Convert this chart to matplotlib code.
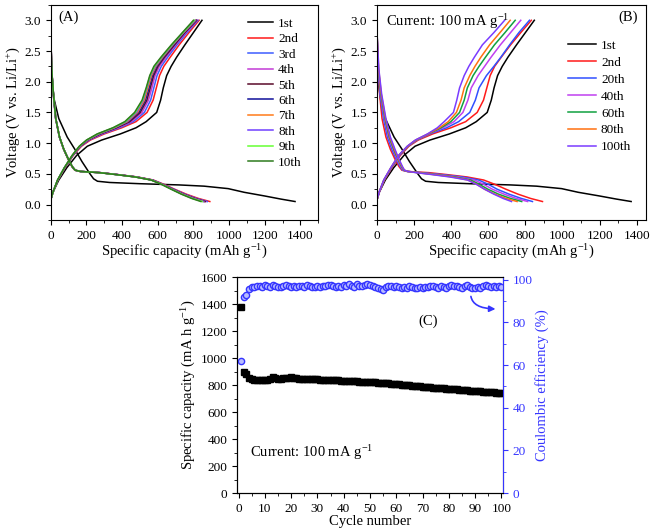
import matplotlib
matplotlib.use("Agg")
import matplotlib.pyplot as plt
from matplotlib.ticker import MultipleLocator

plt.rcParams['font.family'] = ['Liberation Serif', 'DejaVu Serif']
plt.rcParams['mathtext.default'] = 'regular'
plt.rcParams['font.size'] = 9.5

# ---- galvanostatic profiles: capacity (mAh/g) read at fixed voltages ----
v_chg = [0.08, 0.2, 0.4, 0.6, 0.8, 0.95, 1.05, 1.15, 1.25, 1.35, 1.5, 1.7, 1.9, 2.1, 2.25, 2.4, 2.6, 2.8, 3.0]
v_dis = [2.8, 2.2, 1.8, 1.4, 1.1, 0.9, 0.75, 0.62, 0.56, 0.54, 0.52, 0.49, 0.45, 0.40, 0.33, 0.25, 0.17, 0.10, 0.05]
v_dis_first = [2.6, 2.0, 1.7, 1.4, 1.1, 0.9, 0.7, 0.5, 0.42, 0.38, 0.36, 0.34, 0.32, 0.30, 0.26, 0.20, 0.14, 0.09, 0.05]

dis_1st = [0, 6, 20, 45, 92, 135, 175, 220, 240, 262, 330, 500, 720, 860, 995, 1085, 1200, 1290, 1370]
chg_1st = [0, 12, 45, 90, 145, 205, 285, 390, 478, 535, 594, 616, 631, 650, 675, 706, 752, 800, 848]

# panel A, cycles 2..10
a_labels = ['2nd', '3rd', '4th', '5th', '6th', '7th', '8th', '9th', '10th']
a_colors = ['#ff1a1a', '#3d5cff', '#c23ad6', '#5a0a2a', '#10109a', '#ff7a1a', '#7040ff', '#66ff33', '#2e7a1e']
a_chg = [
    [0, 12, 40, 80, 126, 172, 222, 300, 398, 478, 540, 574, 592, 610, 634, 670, 720, 775, 832],
    [0, 12, 40, 79, 124, 168, 215, 290, 385, 463, 525, 560, 578, 596, 620, 656, 708, 764, 826],
    [0, 12, 39, 78, 123, 166, 211, 283, 375, 452, 512, 548, 567, 585, 609, 646, 700, 757, 822],
    [0, 12, 39, 78, 122, 165, 208, 278, 368, 443, 502, 539, 558, 577, 601, 638, 694, 752, 818],
    [0, 12, 39, 77, 122, 164, 206, 274, 362, 436, 494, 531, 551, 570, 595, 632, 689, 748, 815],
    [0, 12, 39, 77, 121, 163, 204, 270, 358, 430, 487, 525, 545, 565, 590, 628, 685, 745, 812],
    [0, 12, 38, 76, 121, 162, 203, 266, 354, 424, 481, 519, 540, 560, 586, 624, 682, 743, 809],
    [0, 12, 38, 76, 120, 161, 201, 263, 351, 419, 475, 515, 537, 557, 582, 621, 679, 741, 805],
    [0, 12, 38, 76, 120, 160, 200, 260, 348, 415, 470, 512, 535, 555, 578, 618, 676, 738, 800],
]
a_dis = [
    [0, 5, 14, 27, 48, 72, 95, 118, 134, 162, 280, 372, 485, 575, 635, 695, 760, 828, 892],
    [0, 5, 14, 27, 48, 72, 96, 119, 136, 164, 278, 370, 482, 572, 630, 690, 752, 818, 878],
    [0, 5, 15, 28, 49, 73, 97, 120, 137, 165, 276, 368, 480, 570, 628, 686, 748, 812, 870],
    [0, 5, 15, 28, 49, 73, 97, 120, 137, 165, 275, 367, 478, 568, 626, 684, 745, 808, 866],
    [0, 5, 15, 28, 49, 73, 97, 120, 137, 165, 274, 366, 477, 567, 625, 682, 742, 804, 862],
    [0, 5, 15, 28, 49, 73, 97, 120, 137, 165, 273, 365, 476, 566, 624, 680, 740, 801, 858],
    [0, 5, 15, 28, 49, 73, 97, 120, 137, 165, 272, 364, 475, 565, 623, 679, 738, 798, 855],
    [0, 5, 15, 28, 49, 73, 97, 120, 137, 165, 271, 363, 474, 564, 622, 677, 735, 794, 850],
    [0, 5, 15, 28, 49, 73, 97, 120, 137, 165, 270, 362, 472, 562, 620, 675, 732, 790, 842],
]

# panel B, cycles 20..100
b_labels = ['20th', '40th', '60th', '80th', '100th']
b_colors = ['#3050ff', '#c040f0', '#10a040', '#ff7010', '#7a3cff']
b_chg = [
    [0, 12, 39, 78, 122, 168, 215, 285, 375, 440, 500, 530, 550, 590, 630, 668, 715, 765, 822],
    [0, 12, 38, 77, 120, 166, 212, 280, 355, 415, 463, 490, 508, 545, 580, 615, 665, 720, 775],
    [0, 11, 37, 76, 118, 165, 210, 277, 345, 398, 445, 470, 487, 518, 550, 585, 633, 690, 745],
    [0, 11, 37, 75, 117, 164, 208, 275, 336, 384, 428, 453, 470, 500, 528, 560, 607, 663, 718],
    [0, 11, 36, 74, 116, 163, 206, 272, 325, 362, 412, 430, 445, 470, 495, 525, 568, 630, 688],
]
b_dis = [
    [0, 6, 16, 35, 56, 80, 102, 124, 138, 162, 240, 345, 460, 548, 600, 648, 712, 778, 838],
    [0, 7, 19, 40, 62, 86, 107, 128, 142, 164, 228, 325, 438, 525, 575, 622, 685, 750, 812],
    [0, 8, 21, 43, 66, 90, 111, 132, 145, 165, 222, 312, 420, 505, 552, 598, 655, 720, 780],
    [0, 9, 23, 46, 69, 94, 114, 135, 147, 166, 216, 302, 405, 490, 538, 580, 635, 695, 755],
    [0, 10, 25, 48, 72, 97, 117, 137, 148, 167, 210, 292, 392, 488, 535, 580, 630, 680, 725],
]

# ---- cycling performance ----
cycles = list(range(1, 101))
capacity = [1375, 900, 880, 855, 845, 838, 835, 835, 836, 838,
            840, 845, 862, 852, 848, 848, 850, 852, 855, 856,
            852, 850, 848, 846, 845, 845, 844, 843, 842, 841,
            840, 839, 838, 837, 836, 835, 835, 834, 833, 832,
            831, 830, 829, 828, 827, 826, 825, 824, 823, 822,
            821, 819, 818, 817, 815, 814, 812, 810, 809, 807,
            805, 803, 801, 799, 797, 795, 794, 792, 790, 788,
            787, 785, 783, 781, 780, 778, 776, 775, 773, 772,
            770, 768, 767, 765, 763, 762, 760, 758, 757, 755,
            754, 752, 751, 749, 748, 746, 745, 743, 741, 739]
efficiency = [62, 92, 93, 95.5, 96.5, 96.5, 97, 97, 96.5, 97.5,
              97, 96.5, 97.5, 97, 96.5, 96.5, 97, 97.5, 97, 96.5,
              97, 96.5, 97, 97, 96.5, 97.5, 97, 96.5, 96.5, 97,
              96.5, 97, 97, 97.5, 97.5, 97, 96.5, 97, 96.5, 97.5,
              97, 98, 97, 96.5, 98, 97, 97, 97.5, 98, 97.5,
              97, 96.5, 96, 95.5, 95, 96.5, 97, 97, 96.5, 97,
              96.5, 96, 96.5, 96, 97, 96.5, 96, 96, 96.5, 96,
              96.5, 96.5, 97, 97, 96.5, 96, 97, 96.5, 96, 97,
              97.5, 97, 97, 96.5, 96, 97, 97.5, 96.5, 96, 96,
              96.5, 96, 97, 97.5, 97, 96.5, 97, 96.5, 97, 96.5]

blue = '#3535ff'

fig = plt.figure(figsize=(6.62, 5.30), dpi=100)
ax_a = fig.add_axes([0.0767, 0.585, 0.404, 0.4057])
ax_b = fig.add_axes([0.5695, 0.585, 0.4063, 0.4057])
ax_c = fig.add_axes([0.358, 0.0698, 0.4018, 0.4075])


def style_profile(ax, xmax):
    ax.set_xlim(0, xmax)
    ax.set_ylim(-0.25, 3.25)
    ax.xaxis.set_major_locator(MultipleLocator(200))
    ax.xaxis.set_minor_locator(MultipleLocator(100))
    ax.yaxis.set_major_locator(MultipleLocator(0.5))
    ax.yaxis.set_minor_locator(MultipleLocator(0.25))
    ax.yaxis.set_major_formatter(plt.FormatStrFormatter('%.1f'))
    ax.tick_params(which='both', direction='out', top=False, right=False)
    ax.tick_params(which='major', length=3.5)
    ax.tick_params(which='minor', length=2)
    ax.set_xlabel('Specific capacity (mAh g$^{-1}$)', fontsize=10.5, labelpad=1)
    ax.set_ylabel('Voltage (V vs. Li/Li$^{+}$)', fontsize=10.5, labelpad=2)


lw = 1.1

# (A)
ax_a.plot(dis_1st, v_dis_first, color='black', lw=lw)
ax_a.plot(chg_1st, v_chg, color='black', lw=lw, label='1st')
for lab, col, c, d in zip(a_labels, a_colors, a_chg, a_dis):
    ax_a.plot(d, v_dis, color=col, lw=lw)
    ax_a.plot(c, v_chg, color=col, lw=lw, label=lab)
style_profile(ax_a, 1500)
ax_a.text(0.03, 0.975, '(A)', transform=ax_a.transAxes, ha='left', va='top', fontsize=10.5)
ax_a.legend(loc='upper left', bbox_to_anchor=(0.737, 0.94), frameon=False, fontsize=9.5,
            handlelength=1.9, handletextpad=0.4, labelspacing=0.24, borderpad=0, borderaxespad=0)

# (B)
ax_b.plot(dis_1st, v_dis_first, color='black', lw=lw)
ax_b.plot(chg_1st, v_chg, color='black', lw=lw, label='1st')
ax_b.plot(a_dis[0], v_dis, color=a_colors[0], lw=lw)
ax_b.plot(a_chg[0], v_chg, color=a_colors[0], lw=lw, label='2nd')
for lab, col, c, d in zip(b_labels, b_colors, b_chg, b_dis):
    ax_b.plot(d, v_dis, color=col, lw=lw)
    ax_b.plot(c, v_chg, color=col, lw=lw, label=lab)
style_profile(ax_b, 1450)
ax_b.text(0.97, 0.975, '(B)', transform=ax_b.transAxes, ha='right', va='top', fontsize=10.5)
ax_b.text(0.035, 0.965, 'Current: 100 mA g$^{-1}$', transform=ax_b.transAxes,
          ha='left', va='top', fontsize=10.5)
ax_b.legend(loc='upper left', bbox_to_anchor=(0.71, 0.84), frameon=False, fontsize=9.5,
            handlelength=2.1, handletextpad=0.4, labelspacing=0.36, borderpad=0, borderaxespad=0)

# (C)
ax_c.plot(cycles, capacity, ls='none', marker='s', ms=4.3, color='black')
ax_c.set_xlim(-0.6, 100.6)
ax_c.set_ylim(0, 1600)
ax_c.xaxis.set_major_locator(MultipleLocator(10))
ax_c.xaxis.set_minor_locator(MultipleLocator(5))
ax_c.yaxis.set_major_locator(MultipleLocator(200))
ax_c.yaxis.set_minor_locator(MultipleLocator(100))
ax_c.tick_params(which='both', direction='out', top=False, right=False)
ax_c.tick_params(which='major', length=3.5)
ax_c.tick_params(which='minor', length=2)
ax_c.set_xlabel('Cycle number', fontsize=10.5, labelpad=0)
ax_c.set_ylabel('Specific capacity (mA h g$^{-1}$)', fontsize=10.5, labelpad=2)
ax_c.text(4.2, 297, 'Current: 100 mA g$^{-1}$', ha='left', va='center', fontsize=10.5)
ax_c.text(72.3, 1270, '(C)', ha='center', va='center', fontsize=10.5)

ax_r = ax_c.twinx()
ax_r.plot(cycles, efficiency, ls='none', marker='o', ms=4.5, mfc='#b8bcff', mec=blue, mew=1.0)
ax_r.set_ylim(0, 101.3)
ax_r.yaxis.set_major_locator(MultipleLocator(20))
ax_r.yaxis.set_minor_locator(MultipleLocator(10))
ax_r.tick_params(axis='y', which='both', direction='out', colors=blue)
ax_r.tick_params(axis='y', which='major', length=3.5)
ax_r.tick_params(axis='y', which='minor', length=2)
ax_r.spines['right'].set_color(blue)
ax_r.set_ylabel('Coulombic efficiency (%)', color=blue, fontsize=10.5, labelpad=2)
ax_r.annotate('', xy=(98.8, 86.3), xytext=(88.3, 93.5),
              arrowprops=dict(arrowstyle='-|>', color=blue, lw=1.2, mutation_scale=9,
                              connectionstyle='angle3,angleA=-90,angleB=0'))

fig.savefig('out.png', dpi=100)
